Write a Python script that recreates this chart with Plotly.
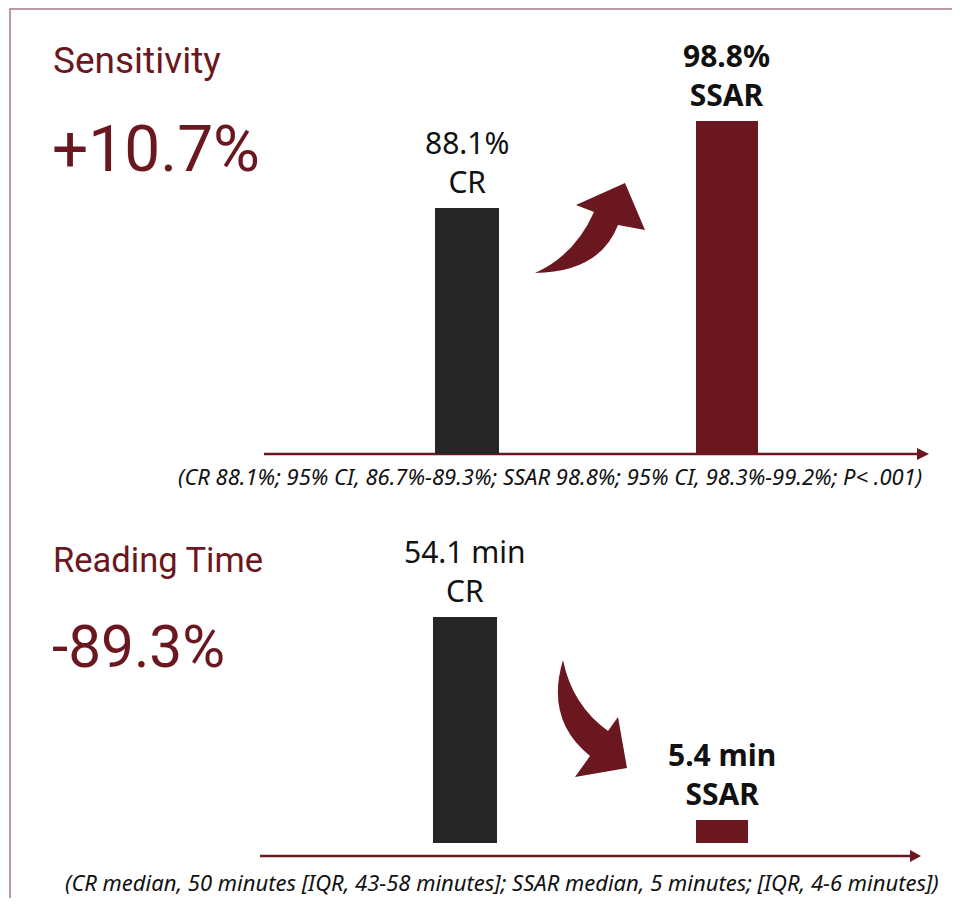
import plotly.graph_objects as go

# ---- data ----
categories = ["CR", "SSAR"]
sensitivity_values = [88.1, 98.8]
sensitivity_labels = ["88.1%", "98.8%"]
reading_time_values = [54.1, 5.4]
reading_time_labels = ["54.1 min", "5.4 min"]
sens_change = "+10.7%"
time_change = "-89.3%"
sens_note = "(CR 88.1%; 95% CI, 86.7%-89.3%; SSAR 98.8%; 95% CI, 98.3%-99.2%; P< .001)"
time_note = "(CR median, 50 minutes [IQR, 43-58 minutes]; SSAR median, 5 minutes; [IQR, 4-6 minutes])"

# page has an 8px body margin; the figure is sized to fit the 960x906 window
OFF = 8
W, H = 960 - 2 * OFF, 906 - 2 * OFF
MAROON = "#6b1720"
DARK = "#262626"
TITLE_FONT = "Roboto, Noto Sans, sans-serif"
NOTE_FONT = "Noto Sans, Open Sans, sans-serif"
LABEL_FONT = "Noto Sans, Open Sans, sans-serif"


def px(x):
    return (x - OFF) / W


def py(y):
    return 1 - (y - OFF) / H


def path(cmds):
    out = []
    for c in cmds:
        if c[0] in ("M", "L"):
            out.append(f"{c[0]} {px(c[1]):.5f},{py(c[2]):.5f}")
        elif c[0] == "Q":
            out.append(f"Q {px(c[1]):.5f},{py(c[2]):.5f} {px(c[3]):.5f},{py(c[4]):.5f}")
        else:
            out.append("Z")
    return " ".join(out)


fig = go.Figure()
bar_colors = [DARK, MAROON]

fig.add_trace(go.Bar(x=categories, y=sensitivity_values, marker_color=bar_colors,
                     marker_line_width=0, width=[0.246, 0.235],
                     xaxis="x", yaxis="y", showlegend=False, hoverinfo="skip"))
fig.add_trace(go.Bar(x=categories, y=reading_time_values, marker_color=bar_colors,
                     marker_line_width=0, width=[0.25, 0.205],
                     xaxis="x2", yaxis="y2", showlegend=False, hoverinfo="skip"))

ax_common = dict(showgrid=False, zeroline=False, showline=False, showticklabels=False,
                 ticks="", fixedrange=True)
fig.update_layout(
    width=W, height=H,
    margin=dict(l=0, r=0, t=0, b=0),
    paper_bgcolor="white", plot_bgcolor="rgba(0,0,0,0)",
    bargap=0,
    xaxis=dict(domain=[px(264), px(917)], range=[-0.781, 1.731], type="category",
               **ax_common),
    yaxis=dict(domain=[py(454), py(30)], range=[57.8, 57.8 + (454 - 30) / 8.13],
               anchor="x", **ax_common),
    xaxis2=dict(domain=[px(260), px(910)], range=[-0.798, 1.7315], type="category",
                anchor="y2", **ax_common),
    yaxis2=dict(domain=[py(856), py(515)], range=[-3.2, -3.2 + (856 - 515) / 4.17],
                anchor="x2", **ax_common),
)

shapes = []
# frame
shapes.append(dict(type="path", xref="paper", yref="paper",
                   path=path([("M", 10, 906), ("L", 10, 9), ("L", 960, 9)]),
                   line=dict(color="#a87a82", width=1.5)))
# axis arrows
for (x0, x1, xtip, yv) in [(264, 917, 929, 454), (260, 910, 921, 856)]:
    shapes.append(dict(type="line", xref="paper", yref="paper",
                       x0=px(x0), x1=px(x1 + 1), y0=py(yv), y1=py(yv),
                       line=dict(color=MAROON, width=2.5), layer="below"))
    shapes.append(dict(type="path", xref="paper", yref="paper",
                       path=path([("M", x1, yv - 6), ("L", xtip, yv), ("L", x1, yv + 6), ("Z",)]),
                       fillcolor=MAROON, line=dict(width=0)))
# curved up arrow
shapes.append(dict(type="path", xref="paper", yref="paper",
                   path=path([("M", 535, 273), ("Q", 600, 272, 618, 225), ("L", 645, 230),
                              ("L", 625, 183), ("L", 576, 205), ("L", 594, 212),
                              ("Q", 575, 255, 535, 273), ("Z",)]),
                   fillcolor=MAROON, line=dict(width=0)))
# curved down arrow
shapes.append(dict(type="path", xref="paper", yref="paper",
                   path=path([("M", 563, 660), ("Q", 545, 720, 590, 756), ("L", 575, 777),
                              ("L", 627, 768), ("L", 618, 717), ("L", 608, 731),
                              ("Q", 572, 705, 563, 660), ("Z",)]),
                   fillcolor=MAROON, line=dict(width=0)))
fig.update_layout(shapes=shapes)

ann = []
# titles
ann.append(dict(text="Sensitivity", x=px(51), y=py(60), xref="paper", yref="paper",
                xanchor="left", yanchor="middle", showarrow=False,
                font=dict(family=TITLE_FONT, size=37, color=MAROON)))
ann.append(dict(text=sens_change, x=px(50), y=py(149), xref="paper", yref="paper",
                xanchor="left", yanchor="middle", showarrow=False,
                font=dict(family=TITLE_FONT, size=64, color=MAROON)))
ann.append(dict(text="Reading Time", x=px(51), y=py(560), xref="paper", yref="paper",
                xanchor="left", yanchor="middle", showarrow=False,
                font=dict(family=TITLE_FONT, size=34.5, color=MAROON)))
ann.append(dict(text=time_change, x=px(50), y=py(647), xref="paper", yref="paper",
                xanchor="left", yanchor="middle", showarrow=False,
                font=dict(family=TITLE_FONT, size=58.5, color=MAROON)))
# notes
ann.append(dict(text="<i>" + sens_note + "</i>", x=px(176), y=py(476), xref="paper", yref="paper",
                xanchor="left", yanchor="middle", showarrow=False,
                font=dict(family=NOTE_FONT, size=22, color="#111111")))
ann.append(dict(text="<i>" + time_note + "</i>", x=px(63), y=py(882), xref="paper", yref="paper",
                xanchor="left", yanchor="middle", showarrow=False,
                font=dict(family=NOTE_FONT, size=22, color="#111111")))
# bar labels
for i, cat in enumerate(categories):
    bold = cat == "SSAR"
    t1 = f"<b>{sensitivity_labels[i]}</b><br><b>{cat}</b>" if bold else f"{sensitivity_labels[i]}<br>{cat}"
    ann.append(dict(text=t1, x=cat, y=sensitivity_values[i], xref="x", yref="y",
                    xanchor="center", yanchor="bottom", yshift=4, showarrow=False,
                    font=dict(family=LABEL_FONT, size=30, color="#111111")))
    t2 = f"<b>{reading_time_labels[i]}</b><br><b>{cat}</b>" if bold else f"{reading_time_labels[i]}<br>{cat}"
    ann.append(dict(text=t2, x=cat, y=reading_time_values[i], xref="x2", yref="y2",
                    xanchor="center", yanchor="bottom", yshift=4, showarrow=False,
                    font=dict(family=LABEL_FONT, size=30, color="#111111")))
fig.update_layout(annotations=ann)

fig.write_html("out.html")
